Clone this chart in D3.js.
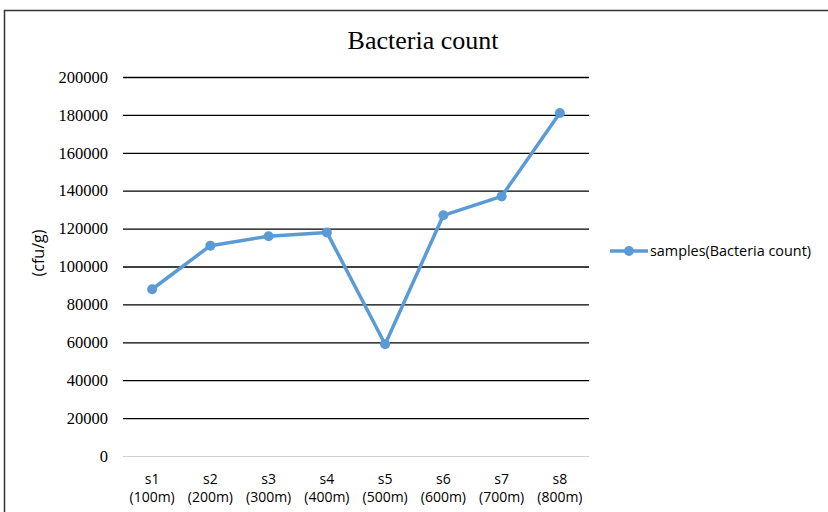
<!DOCTYPE html>
<html>
<head>
<meta charset="utf-8">
<script src="https://cdn.jsdelivr.net/npm/d3@7"></script>
<style>
  html, body { margin: 0; padding: 0; background: #fff; }
  svg { display: block; }
</style>
</head>
<body>
<svg id="chart" width="828" height="512"></svg>
<script>
// Sample sites and bacteria counts (cfu/g)
const categories = ["s1 (100m)", "s2 (200m)", "s3 (300m)", "s4 (400m)", "s5 (500m)", "s6 (600m)", "s7 (700m)", "s8 (800m)"];
const counts = [88000, 111000, 116000, 118000, 59000, 127000, 137000, 181000];
const yTicks = [0, 20000, 40000, 60000, 80000, 100000, 120000, 140000, 160000, 180000, 200000];
const seriesName = "samples(Bacteria count)";
const chartTitle = "Bacteria count";
const yAxisTitle = "(cfu/g)";

const svg = d3.select("#chart");
const blue = "#5b9bd5";
const serif = "'Liberation Serif', 'Times New Roman', serif";
const sans = "'Open Sans', 'Noto Sans', sans-serif";
const plot = { left: 123, right: 589, top: 77, bottom: 456 };

// Outer frame (continues past the right and bottom edges)
svg.append("path")
  .attr("d", "M4.5,520 L4.5,10.5 L840,10.5")
  .attr("fill", "none")
  .attr("stroke", "#333")
  .attr("stroke-width", 1.5);

const x = d3.scaleBand().domain(categories).range([plot.left, plot.right]);
const y = d3.scaleLinear().domain([0, 200000]).range([plot.bottom, plot.top]);

// Horizontal gridlines with tick labels
const yAxis = svg.append("g")
  .attr("transform", `translate(${plot.left},0)`)
  .call(d3.axisLeft(y).tickValues(yTicks).tickFormat(d => String(d))
    .tickSize(-(plot.right - plot.left)).tickPadding(15));
yAxis.attr("font-family", null).attr("font-size", null);
yAxis.select(".domain").remove();
yAxis.selectAll(".tick line")
  .attr("stroke", d => d === 0 ? "#d0d0d0" : "#000")
  .attr("stroke-width", d => d === 0 ? 1 : 1.3);
yAxis.selectAll(".tick text")
  .style("font-family", serif)
  .style("font-size", "16.5px")
  .attr("fill", "#000");

// Category labels on two lines
const xAxis = svg.append("g")
  .attr("transform", `translate(0,${plot.bottom})`)
  .call(d3.axisBottom(x).tickSize(0).tickFormat(""));
xAxis.select(".domain").remove();
xAxis.selectAll(".tick").each(function(d) {
  const parts = d.split(" ");
  const t = d3.select(this).append("text")
    .attr("fill", "#000")
    .style("font-family", sans)
    .style("font-size", "14px")
    .attr("text-anchor", "middle");
  t.append("tspan").attr("x", 0).attr("y", 28).text(parts[0]);
  t.append("tspan").attr("x", 0).attr("y", 46).text(parts[1]);
});

// Series line and markers
const cx = d => x(d) + x.bandwidth() / 2;
const data = categories.map((c, i) => ({ c, v: counts[i] }));
svg.append("path")
  .datum(data)
  .attr("fill", "none")
  .attr("stroke", blue)
  .attr("stroke-width", 3.5)
  .attr("stroke-linejoin", "round")
  .attr("d", d3.line().x(d => cx(d.c)).y(d => y(d.v)));
svg.selectAll("circle.pt")
  .data(data)
  .join("circle")
  .attr("class", "pt")
  .attr("cx", d => cx(d.c))
  .attr("cy", d => y(d.v))
  .attr("r", 5)
  .attr("fill", blue);

// Title
svg.append("text")
  .attr("x", 423).attr("y", 49)
  .attr("text-anchor", "middle")
  .style("font-family", serif)
  .style("font-size", "26px")
  .attr("fill", "#000")
  .text(chartTitle);

// Y axis title
svg.append("text")
  .attr("transform", "translate(44,253) rotate(-90)")
  .attr("text-anchor", "middle")
  .style("font-family", sans)
  .style("font-size", "16px")
  .attr("fill", "#000")
  .text(yAxisTitle);

// Legend
const lg = svg.append("g").attr("transform", "translate(610,251)");
lg.append("line").attr("x1", 0).attr("x2", 38).attr("y1", 0).attr("y2", 0)
  .attr("stroke", blue).attr("stroke-width", 3.5);
lg.append("circle").attr("cx", 19).attr("cy", 0).attr("r", 5).attr("fill", blue);
lg.append("text").attr("x", 40).attr("y", 5)
  .style("font-family", sans)
  .style("font-size", "14.4px")
  .attr("fill", "#000")
  .text(seriesName);
</script>
</body>
</html>
